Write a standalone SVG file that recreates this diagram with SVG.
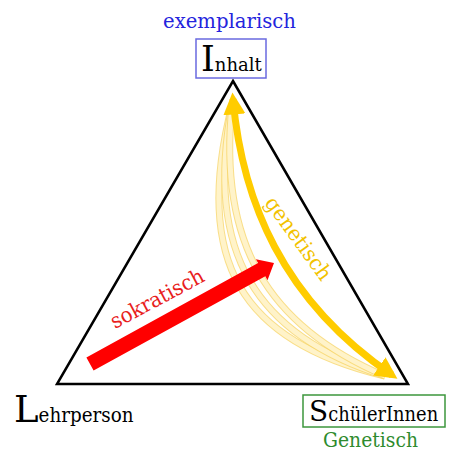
<svg xmlns="http://www.w3.org/2000/svg" width="450" height="452" viewBox="0 0 450 452">
<style>
.serif{font-family:"DejaVu Serif","Liberation Serif",serif;}
.band-o{fill:none;stroke:#f7d66a;stroke-width:7;opacity:0.8;}
.band-i{fill:none;stroke:#fff3c9;stroke-width:5;}
.gen{fill:none;stroke:#ffcc00;stroke-width:7;}
.box{fill:#fff;stroke-width:1.5;}
</style>
<defs>
<marker id="yhead" markerUnits="userSpaceOnUse" markerWidth="22" markerHeight="22" viewBox="0 0 20 20" refX="14" refY="10" orient="auto-start-reverse">
<path d="M0,0 L20,10 L0,20 Z" fill="#ffcc00"/>
</marker>
</defs>
<rect width="450" height="452" fill="#fff"/>
<g id="connectors">
<polygon points="233,81 408,384 57,384" fill="none" stroke="#000" stroke-width="2.5" stroke-linejoin="miter"/>
<g id="bands">
<path class="band-o" d="M232,105 C192,262 242,342 385,376"/>
<path class="band-i" d="M232,105 C192,262 242,342 385,376"/>
<path class="band-o" d="M232,105 C204,252 256,336 385,376"/>
<path class="band-i" d="M232,105 C204,252 256,336 385,376"/>
<path class="band-o" d="M232,105 C218,242 267,326 385,376"/>
<path class="band-i" d="M232,105 C218,242 267,326 385,376"/>
</g>
<path id="genetisch-arrow" class="gen" d="M233,99 C242,200 282,300 392,375" marker-start="url(#yhead)" marker-end="url(#yhead)"/>
<polygon id="sokratisch-arrow" points="86.4,357.4 258.1,263.1 255.9,259.2 274,263 267.5,280.2 265.3,276.3 93.6,370.6" fill="#ff0000"/>
<text class="serif" x="0" y="0" transform="translate(115,329) rotate(-28)" font-size="21" fill="#e8201c" textLength="103" lengthAdjust="spacingAndGlyphs">sokratisch</text>
<text class="serif" x="0" y="0" transform="translate(264,203) rotate(54)" font-size="21" fill="#f2c200" textLength="98" lengthAdjust="spacingAndGlyphs">genetisch</text>
</g>
<g id="inhalt">
<text class="serif" x="163" y="28" font-size="20" fill="#2424dd" textLength="133" lengthAdjust="spacingAndGlyphs">exemplarisch</text>
<rect class="box" x="196" y="39" width="70" height="39" stroke="#6a6ae0"/>
<text class="serif" x="201" y="71" fill="#000"><tspan font-size="35">I</tspan><tspan font-size="19" textLength="47" lengthAdjust="spacingAndGlyphs">nhalt</tspan></text>
</g>
<g id="lehrperson">
<text class="serif" x="14" y="422" fill="#000"><tspan font-size="37">L</tspan><tspan font-size="20" textLength="95" lengthAdjust="spacingAndGlyphs">ehrperson</tspan></text>
</g>
<g id="schuelerinnen">
<rect class="box" x="303" y="395" width="142" height="32" stroke="#3c963c"/>
<text class="serif" x="309" y="421" fill="#000"><tspan font-size="28">S</tspan><tspan font-size="19.5" textLength="110" lengthAdjust="spacingAndGlyphs">chülerInnen</tspan></text>
<text class="serif" x="323" y="447" font-size="20" fill="#2e8b2e" textLength="95" lengthAdjust="spacingAndGlyphs">Genetisch</text>
</g>
</svg>
